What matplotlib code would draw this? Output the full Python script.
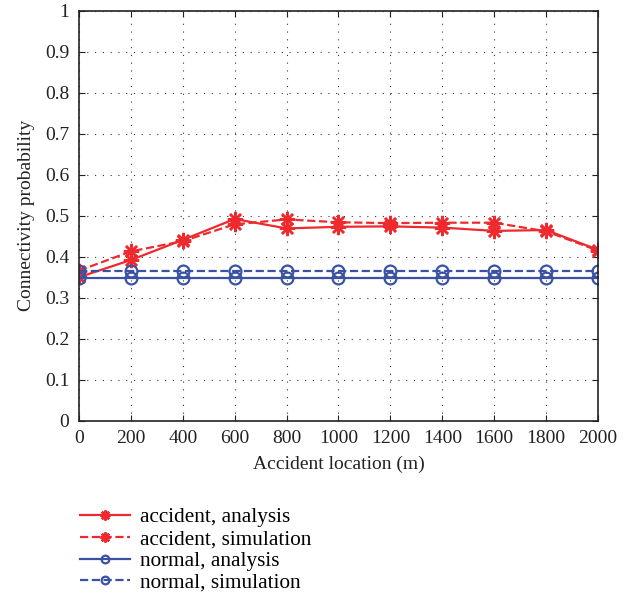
import matplotlib
matplotlib.use("Agg")
import matplotlib.pyplot as plt
from matplotlib.ticker import MultipleLocator

plt.rcParams['font.family'] = ['Liberation Serif', 'DejaVu Serif']

location = [0, 200, 400, 600, 800, 1000, 1200, 1400, 1600, 1800, 2000]
accident_analysis = [0.350, 0.392, 0.441, 0.492, 0.469, 0.473, 0.474, 0.471, 0.463, 0.465, 0.417]
accident_simulation = [0.366, 0.413, 0.438, 0.479, 0.491, 0.484, 0.482, 0.483, 0.483, 0.462, 0.415]
normal_analysis = [0.349] * 11
normal_simulation = [0.364] * 11
y_ticklabels = ['0', '0.1', '0.2', '0.3', '0.4', '0.5', '0.6', '0.7', '0.8', '0.9', '1']

red = '#ee2a2e'
blue = '#3b52a4'
star = (8, 2, 0)

fig = plt.figure(figsize=(6.35, 5.97), dpi=100)
ax = fig.add_axes([0.1244, 0.2953, 0.8173, 0.6867])

ax.plot(location, accident_analysis, '-', color=red, marker=star, ms=11, mew=1.8,
        lw=1.6, label='accident, analysis')
ax.plot(location, accident_simulation, '--', color=red, marker=star, ms=11, mew=1.8,
        lw=1.6, label='accident, simulation')
ax.plot(location, normal_analysis, '-', color=blue, marker='o', ms=8.5, mfc='none',
        mew=1.6, lw=1.6, label='normal, analysis')
ax.plot(location, normal_simulation, '--', color=blue, marker='o', ms=8.5, mfc='none',
        mew=1.6, lw=1.6, label='normal, simulation')

ax.set_xlim(0, 2000)
ax.set_ylim(0, 1)
ax.xaxis.set_major_locator(MultipleLocator(200))
ax.set_yticks([i / 10 for i in range(11)])
ax.set_yticklabels(y_ticklabels)
ax.grid(True, linestyle=(0, (1, 6)), color='#333333', lw=0.8)
ax.tick_params(direction='in', top=True, right=True, length=4, width=0.8,
               labelsize=14, colors='#222222', pad=7)
for s in ax.spines.values():
    s.set_linewidth(1.2)
    s.set_color('#222222')

ax.set_xlabel('Accident location (m)', fontsize=14, color='#222222', labelpad=6)
ax.set_ylabel('Connectivity probability', fontsize=14, color='#222222', labelpad=7)

fig.legend(loc='upper left', bbox_to_anchor=(0.112, 0.164), frameon=False,
           fontsize=15.3, handlelength=2.35, labelspacing=0.09, handletextpad=0.5,
           borderaxespad=0, markerscale=0.65)

fig.savefig('out.png', dpi=100)
